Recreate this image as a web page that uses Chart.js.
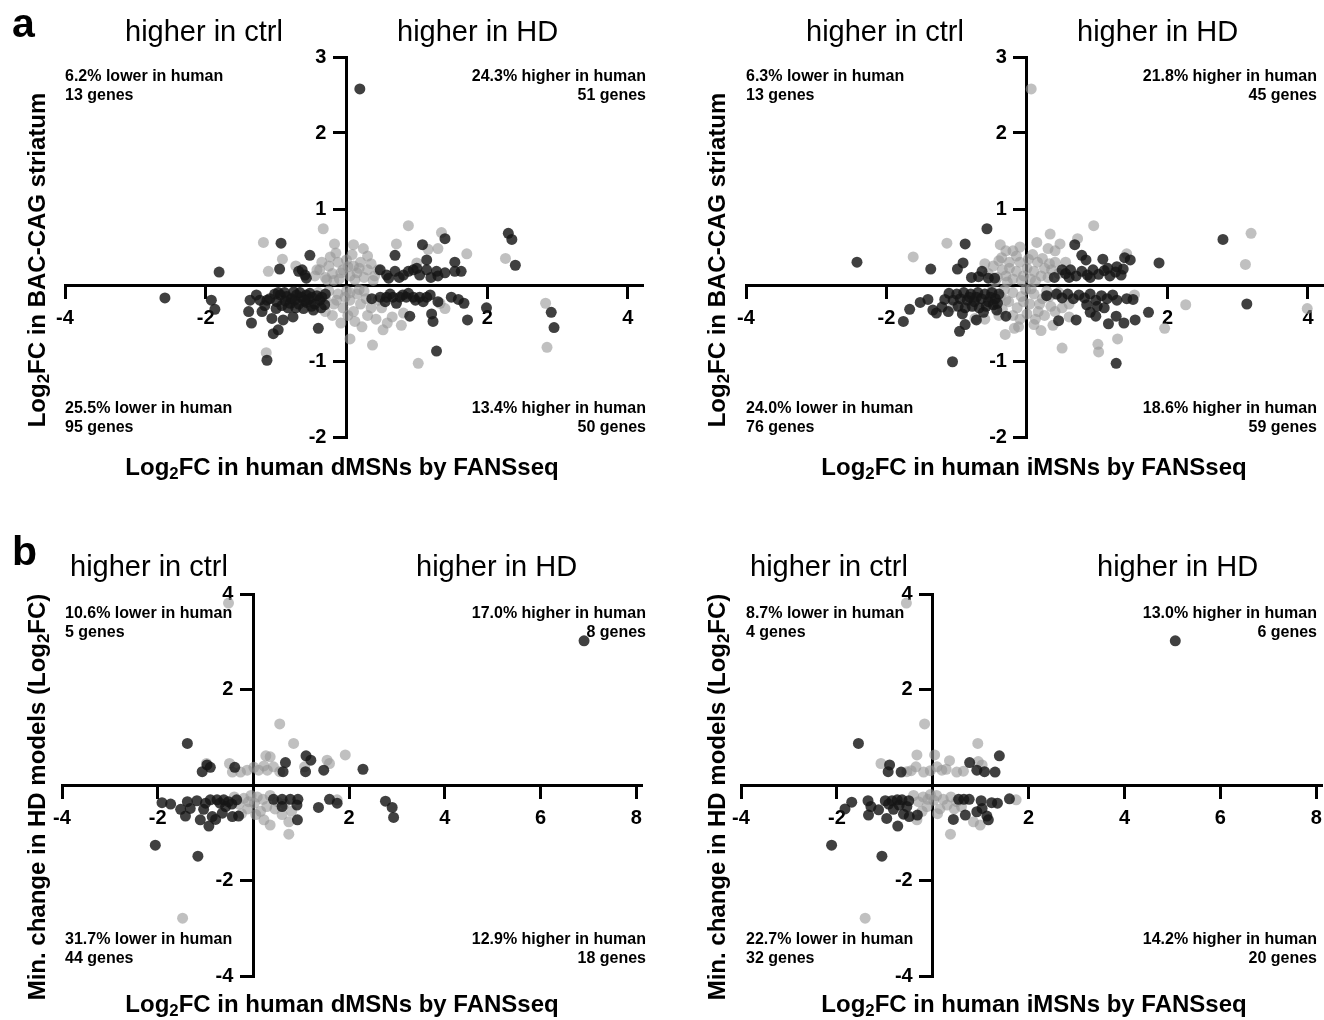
<!DOCTYPE html>
<html lang="en">
<head>
<meta charset="UTF-8">
<title>Log2FC comparison, human MSNs vs HD models</title>
<script src="https://cdn.jsdelivr.net/npm/chart.js"></script>
<style>
  html, body { margin: 0; padding: 0; overflow: hidden; background: #fff; }
  body { position: relative; width: 1324px; height: 1020px; font-family: "Liberation Sans", Arial, sans-serif; color: #000; }
  canvas { position: absolute; }
  .t { position: absolute; white-space: nowrap; z-index: 2; }
  .letter { font-size: 41px; font-weight: bold; line-height: 40px; }
  .dir { font-size: 29px; line-height: 29px; }
  .note { font-size: 16px; font-weight: bold; line-height: 19px; }
  .note.r { text-align: right; }
  .xt { font-size: 24px; font-weight: bold; line-height: 24px; transform: translateX(-50%); }
  .yt { font-size: 24px; font-weight: bold; line-height: 24px; transform: translate(-50%, -50%) rotate(-90deg); }
  sub { font-size: 70%; vertical-align: -0.25em; line-height: 0; }
</style>
</head>
<body>
  <div class="t letter" style="left:12px; top:3px;">a</div>
  <div class="t letter" style="left:12px; top:531px;">b</div>

  <div class="t dir" style="left:125px; top:17px;">higher in ctrl</div>
  <div class="t dir" style="left:397px; top:17px;">higher in HD</div>
  <div class="t dir" style="left:806px; top:17px;">higher in ctrl</div>
  <div class="t dir" style="left:1077px; top:17px;">higher in HD</div>
  <div class="t dir" style="left:70px; top:552px;">higher in ctrl</div>
  <div class="t dir" style="left:416px; top:552px;">higher in HD</div>
  <div class="t dir" style="left:750px; top:552px;">higher in ctrl</div>
  <div class="t dir" style="left:1097px; top:552px;">higher in HD</div>

  <div class="t note" style="left:65px; top:66px;">6.2% lower in human<br>13 genes</div>
  <div class="t note r" style="right:678px; top:66px;">24.3% higher in human<br>51 genes</div>
  <div class="t note" style="left:65px; top:398px;">25.5% lower in human<br>95 genes</div>
  <div class="t note r" style="right:678px; top:398px;">13.4% higher in human<br>50 genes</div>

  <div class="t note" style="left:746px; top:66px;">6.3% lower in human<br>13 genes</div>
  <div class="t note r" style="right:7px; top:66px;">21.8% higher in human<br>45 genes</div>
  <div class="t note" style="left:746px; top:398px;">24.0% lower in human<br>76 genes</div>
  <div class="t note r" style="right:7px; top:398px;">18.6% higher in human<br>59 genes</div>

  <div class="t note" style="left:65px; top:603px;">10.6% lower in human<br>5 genes</div>
  <div class="t note r" style="right:678px; top:603px;">17.0% higher in human<br>8 genes</div>
  <div class="t note" style="left:65px; top:929px;">31.7% lower in human<br>44 genes</div>
  <div class="t note r" style="right:678px; top:929px;">12.9% higher in human<br>18 genes</div>

  <div class="t note" style="left:746px; top:603px;">8.7% lower in human<br>4 genes</div>
  <div class="t note r" style="right:7px; top:603px;">13.0% higher in human<br>6 genes</div>
  <div class="t note" style="left:746px; top:929px;">22.7% lower in human<br>32 genes</div>
  <div class="t note r" style="right:7px; top:929px;">14.2% higher in human<br>20 genes</div>

  <div class="t xt" style="left:342px; top:455px;">Log<sub>2</sub>FC in human dMSNs by FANSseq</div>
  <div class="t xt" style="left:1034px; top:455px;">Log<sub>2</sub>FC in human iMSNs by FANSseq</div>
  <div class="t xt" style="left:342px; top:992px;">Log<sub>2</sub>FC in human dMSNs by FANSseq</div>
  <div class="t xt" style="left:1034px; top:992px;">Log<sub>2</sub>FC in human iMSNs by FANSseq</div>

  <div class="t yt" style="left:37px; top:260px;">Log<sub>2</sub>FC in BAC-CAG striatum</div>
  <div class="t yt" style="left:717px; top:260px;">Log<sub>2</sub>FC in BAC-CAG striatum</div>
  <div class="t yt" style="left:37px; top:797px;">Min. change in HD models (Log<sub>2</sub>FC)</div>
  <div class="t yt" style="left:717px; top:797px;">Min. change in HD models (Log<sub>2</sub>FC)</div>

  <canvas id="aLeft" width="657" height="460" style="left:25px; top:17px;"></canvas>
  <canvas id="aRight" width="656" height="460" style="left:706px; top:17px;"></canvas>
  <canvas id="bLeft" width="659" height="462" style="left:22px; top:554px;"></canvas>
  <canvas id="bRight" width="660" height="462" style="left:701px; top:554px;"></canvas>

<script>
// tick values (0 is not labelled in the figure)
const ticksAx = [-4, -2, 2, 4];
const ticksAy = [3, 2, 1, -1, -2];
const ticksBx = [-4, -2, 2, 4, 6, 8];
const ticksBy = [4, 2, -2, -4];

// panel a, dMSNs vs BAC-CAG: significant (dark) and not significant (grey)
const aDmsnSig = [
  [0.19,2.58],[-2.58,-0.17],[-1.81,0.17],[-1.92,-0.2],[-1.87,-0.32],[-0.93,0.55],[-0.52,0.39],[-0.95,0.21],
  [-0.68,0.18],[-0.59,0.13],[-0.57,0.09],[-0.63,0.2],
  [-1.37,-0.2],[-1.39,-0.35],[-1.35,-0.5],[-1.2,-0.35],[-1.13,-0.2],[-1.06,-0.44],[-1.04,-0.64],[-0.97,-0.59],
  [-0.9,-0.46],[-0.76,-0.42],[-1.13,-0.99],[-0.4,-0.57],[-0.94,-0.13],[-0.85,-0.15],[-0.78,-0.18],[-0.71,-0.13],
  [-0.64,-0.16],[-0.57,-0.13],[-0.49,-0.16],[-0.42,-0.14],[-0.35,-0.16],[-0.8,-0.24],[-0.68,-0.25],[-0.57,-0.23],
  [-0.45,-0.25],[-0.99,-0.22],[-0.61,-0.31],[-0.47,-0.33],[-0.31,-0.26],[-1.09,-0.18],[-1.23,-0.2],[-1.02,-0.12],
  [-0.88,-0.1],[-0.74,-0.2],[-0.52,-0.11],[-0.38,-0.2],[-1.16,-0.27],[-0.66,-0.1],[-0.83,-0.3],[-0.54,-0.19],
  [-0.92,-0.27],[-0.72,-0.3],[-1.28,-0.13],[-0.3,-0.12],[-0.87,-0.21],[-0.6,-0.21],[-0.5,-0.28],[-1.0,-0.31],
  [-0.36,-0.3],[-0.97,-0.1],[-0.75,-0.09],
  [0.36,-0.18],[0.48,-0.16],[0.57,-0.16],[0.66,-0.16],[0.76,-0.16],[0.85,-0.16],[0.95,-0.16],[1.04,-0.16],
  [1.14,-0.16],[0.55,-0.22],[0.71,-0.24],[0.9,-0.41],[1.21,-0.38],[1.23,-0.48],[1.28,-0.87],[0.62,-0.12],
  [0.8,-0.13],[0.98,-0.2],[1.19,-0.13],[1.3,-0.22],[1.49,-0.16],[1.59,-0.19],[1.67,-0.24],[1.72,-0.46],
  [1.99,-0.3],[2.91,-0.36],[2.95,-0.56],[0.88,-0.11],[1.09,-0.22],
  [0.48,0.2],[0.57,0.13],[0.69,0.18],[0.81,0.13],[0.95,0.2],[1.04,0.13],[1.14,0.2],[1.28,0.18],[1.4,0.16],
  [0.69,0.39],[1.08,0.53],[1.14,0.33],[1.4,0.61],[1.54,0.3],[1.63,0.18],[1.54,0.18],[1.3,0.12],[2.3,0.68],
  [2.35,0.6],[2.4,0.26],[0.88,0.18],[1.0,0.22],[0.6,0.09],[0.75,0.1],[1.2,0.1]
];
const aDmsnNs = [
  [-0.33,0.74],[-1.18,0.56],[-0.91,0.34],[-1.11,0.18],[-0.72,0.25],[-0.17,0.54],[-0.23,0.37],[0.1,0.53],
  [0.24,0.48],[0.88,0.78],[0.71,0.54],[1.35,0.69],[1.3,0.48],[1.0,0.29],[1.16,0.47],[1.71,0.41],[2.26,0.35],
  [-0.45,0.12],[-0.38,0.2],[-0.3,0.1],[-0.25,0.25],[-0.2,0.15],[-0.12,0.3],[-0.1,0.08],[-0.05,0.2],[0.0,0.33],
  [0.05,0.12],[0.1,0.25],[0.15,0.16],[0.2,0.3],[0.25,0.1],[0.3,0.2],[0.35,0.28],[0.4,0.12],[-0.35,0.3],
  [-0.15,0.42],[0.08,0.4],[0.3,0.38],[-0.42,0.2],[0.12,0.07],[-0.28,0.07],[0.45,0.2],[-0.08,0.16],[0.02,0.24],
  [0.18,0.22],[-0.18,0.06],[0.38,0.06],
  [-0.4,-0.1],[-0.3,-0.18],[-0.25,-0.08],[-0.18,-0.25],[-0.12,-0.12],[-0.05,-0.3],[0.0,-0.08],[0.05,-0.2],
  [0.1,-0.35],[0.15,-0.12],[0.2,-0.25],[0.25,-0.08],[0.3,-0.4],[0.35,-0.3],[0.42,-0.45],[0.5,-0.3],
  [0.58,-0.5],[-0.2,-0.4],[-0.08,-0.5],[0.12,-0.48],[0.22,-0.55],[-0.3,-0.35],[0.65,-0.42],[0.05,-0.1],
  [-0.14,-0.2],[0.02,-0.4],[0.28,-0.18],[-0.02,-0.16],[0.18,-0.06],[0.45,-0.2],
  [0.05,-0.71],[0.37,-0.79],[-1.14,-0.89],[1.02,-1.03],[0.52,-0.59],[1.4,-0.31],[1.33,-0.24],[2.83,-0.24],
  [2.85,-0.82],[0.81,-0.37],[0.78,-0.53]
];

// panel a, iMSNs vs BAC-CAG
const aImsnSig = [
  [-2.42,0.3],[-0.57,0.74],[-0.88,0.54],[-1.37,0.21],[-0.91,0.29],[-0.99,0.21],[-0.64,0.18],[-0.79,0.1],
  [-0.69,0.11],[-0.55,0.09],[-0.46,0.09],
  [-1.76,-0.48],[-1.67,-0.32],[-1.52,-0.23],[-1.41,-0.19],[-1.34,-0.33],[-1.29,-0.37],[-1.21,-0.29],[-1.17,-0.19],
  [-1.11,-0.11],[-1.12,-0.35],[-0.96,-0.61],[-0.88,-0.52],[-0.72,-0.46],[-1.06,-1.01],[-0.3,-0.41],[-0.43,-0.33],
  [-1.0,-0.12],[-0.95,-0.18],[-0.9,-0.1],[-0.85,-0.2],[-0.8,-0.12],[-0.75,-0.22],[-0.7,-0.1],[-0.65,-0.18],
  [-0.6,-0.12],[-0.55,-0.22],[-0.5,-0.1],[-0.45,-0.18],[-0.4,-0.12],[-0.98,-0.28],[-0.88,-0.3],[-0.78,-0.28],
  [-0.68,-0.3],[-0.58,-0.28],[-0.48,-0.26],[-1.05,-0.2],[-0.92,-0.38],[-0.62,-0.36],[-0.82,-0.16],[-0.72,-0.16],
  [-0.52,-0.16],[-0.42,-0.24],
  [2.79,0.6],[1.88,0.29],[0.68,0.53],[0.78,0.39],[0.84,0.33],[1.08,0.34],[1.39,0.36],[1.47,0.33],[1.28,0.24],
  [0.39,0.1],[0.55,0.15],[0.62,0.2],[0.7,0.12],[0.78,0.18],[0.86,0.13],[0.94,0.2],[1.02,0.14],[1.1,0.19],
  [1.18,0.12],[1.26,0.17],[1.34,0.13],[1.37,0.21],[0.6,0.1],[0.9,0.1],[1.15,0.22],[0.5,0.2],
  [3.13,-0.25],[0.28,-0.14],[0.42,-0.12],[0.5,-0.17],[0.58,-0.12],[0.66,-0.18],[0.74,-0.13],[0.82,-0.17],
  [0.9,-0.12],[0.98,-0.2],[1.06,-0.14],[1.14,-0.18],[1.22,-0.13],[1.28,-0.2],[1.42,-0.18],[1.51,-0.19],
  [1.73,-0.36],[1.54,-0.46],[1.38,-0.5],[1.27,-0.41],[1.16,-0.51],[0.98,-0.41],[0.9,-0.36],[0.7,-0.46],
  [0.45,-0.47],[1.27,-1.03],[1.0,-0.28],[1.1,-0.3],[0.85,-0.26]
];
const aImsnNs = [
  [0.06,2.58],[-1.14,0.55],[-1.62,0.37],[-0.38,0.53],[-0.3,0.45],[-0.36,0.36],[-0.25,0.3],[-0.31,-0.65],
  [-0.18,-0.57],[-0.74,-0.44],[-1.06,-0.29],[-0.6,-0.45],
  [0.95,0.78],[0.33,0.67],[0.72,0.61],[0.14,0.56],[0.47,0.54],[0.3,0.48],[0.4,0.45],[-0.1,0.5],[-0.2,0.45],
  [3.19,0.68],[3.11,0.27],[1.42,0.41],[2.26,-0.26],[3.99,-0.31],[1.96,-0.57],[1.53,-0.13],[1.29,-0.71],
  [1.01,-0.78],[1.02,-0.88],[0.5,-0.83],[0.37,-0.53],[0.6,-0.42],
  [-0.55,0.15],[-0.48,0.25],[-0.42,0.1],[-0.35,0.2],[-0.3,0.12],[-0.25,0.22],[-0.2,0.08],[-0.15,0.18],
  [-0.1,0.3],[-0.05,0.12],[0.0,0.22],[0.05,0.08],[0.1,0.18],[0.15,0.3],[0.2,0.12],[0.25,0.22],[0.3,0.1],
  [0.35,0.2],[0.4,0.3],[0.45,0.15],[-0.4,0.32],[-0.15,0.38],[0.08,0.4],[0.22,0.35],[-0.6,0.28],[0.55,0.3],
  [-0.28,0.04],[-0.08,0.06],[0.12,0.05],[0.32,0.28],[-0.45,0.05],[0.02,0.34],
  [-0.5,-0.08],[-0.38,-0.15],[-0.32,-0.06],[-0.26,-0.22],[-0.2,-0.1],[-0.14,-0.3],[-0.08,-0.15],[-0.02,-0.06],
  [0.04,-0.25],[0.1,-0.12],[0.16,-0.35],[0.22,-0.18],[0.28,-0.08],[0.34,-0.28],[-0.35,-0.32],[-0.2,-0.4],
  [0.0,-0.38],[0.12,-0.45],[0.4,-0.35],[0.5,-0.3],[-0.05,-0.22],[-0.45,-0.25],[0.25,-0.4],[0.6,-0.25],
  [0.2,-0.6],[0.1,-0.52],[-0.12,-0.55],[-0.3,-0.2],[0.06,-0.05],[0.18,-0.25],[-0.4,-0.4],[0.32,-0.15],
  [-0.1,-0.45],[0.45,-0.1]
];

// panel b, dMSNs vs min. change in HD models
const bDmsnSig = [
  [6.91,3.02],[-2.05,-1.26],[-1.16,-1.49],[-1.38,0.87],[-1.07,0.28],[-0.97,0.42],[-0.9,0.37],[-0.39,0.37],
  [0.62,0.28],[0.67,0.47],[1.1,0.61],[1.2,0.52],[1.09,0.28],[1.47,0.31],[2.29,0.33],
  [-1.91,-0.37],[-1.73,-0.4],[-1.52,-0.51],[-1.42,-0.65],[-1.38,-0.35],[-1.18,-0.33],[-1.04,-0.51],[-1.11,-0.73],
  [-0.93,-0.86],[-0.86,-0.66],[-0.79,-0.72],[-0.65,-0.59],[-0.9,-0.31],[-0.76,-0.31],[-0.62,-0.31],[-0.52,-0.35],
  [-0.58,-0.45],[-0.35,-0.31],[-0.44,-0.66],[-0.31,-0.65],[-1.32,-0.49],[-1.0,-0.38],[-0.7,-0.38],[-0.45,-0.4],
  [0.42,-0.3],[0.6,-0.3],[0.77,-0.3],[0.93,-0.3],[0.6,-0.45],[0.91,-0.42],[0.92,-0.73],[1.36,-0.47],
  [1.59,-0.3],[1.75,-0.38],[2.76,-0.34],[2.9,-0.47],[2.93,-0.68]
];
const bDmsnNs = [
  [-0.52,3.81],[-1.48,-2.79],[0.55,1.28],[0.84,0.87],[1.92,0.63],[1.54,0.52],[1.59,0.45],[0.26,0.61],
  [0.35,0.59],[-0.5,0.45],[-0.98,0.45],[-0.44,0.27],[-0.27,0.27],[-0.13,0.31],[0.01,0.37],[0.11,0.31],
  [0.22,0.4],[0.29,0.31],[0.42,0.38],[0.55,0.28],[1.07,0.38],
  [0.74,-1.03],[0.35,-0.84],[0.22,-0.73],[0.74,-0.77],[0.6,-0.62],[0.8,-0.55],[1.75,-0.31],[-0.4,-0.25],
  [-0.3,-0.4],[-0.2,-0.28],[-0.12,-0.5],[-0.05,-0.22],[0.02,-0.38],[0.08,-0.25],[0.15,-0.55],[0.2,-0.3],
  [0.28,-0.45],[0.35,-0.22],[0.45,-0.5],[0.5,-0.35],[-0.25,-0.6],[0.05,-0.62],[0.65,-0.4],[-0.1,-0.35]
];

// panel b, iMSNs vs min. change in HD models
const bImsnSig = [
  [5.06,3.02],[-2.11,-1.26],[-1.06,-1.49],[-1.55,0.87],[-0.9,0.42],[-0.93,0.28],[-0.66,0.27],[0.77,0.47],
  [0.92,0.31],[1.08,0.28],[1.3,0.27],[1.39,0.61],
  [-1.69,-0.36],[-1.83,-0.5],[-1.35,-0.33],[-1.29,-0.45],[-1.13,-0.52],[-1.34,-0.63],[-0.99,-0.33],[-0.85,-0.33],
  [-0.74,-0.31],[-0.64,-0.31],[-0.5,-0.33],[-0.82,-0.51],[-0.96,-0.7],[-0.73,-0.86],[-0.61,-0.61],[-0.49,-0.66],
  [-0.32,-0.63],[-0.54,-0.45],[-0.92,-0.4],[-0.7,-0.42],
  [0.54,-0.3],[0.76,-0.3],[1.01,-0.33],[1.23,-0.37],[1.35,-0.38],[1.6,-0.29],[1.03,-0.49],[1.13,-0.65],
  [1.16,-0.73],[0.92,-0.56],[0.68,-0.63],[0.43,-0.72],[0.65,-0.3]
];
const bImsnNs = [
  [-0.55,3.81],[-1.41,-2.79],[-0.17,1.28],[0.94,0.87],[-0.33,0.63],[0.04,0.63],[-1.08,0.45],[-0.54,0.28],
  [-0.35,0.38],[-0.19,0.27],[-0.05,0.3],[0.09,0.38],[0.19,0.31],[0.35,0.51],[0.5,0.27],[0.64,0.29],
  [0.95,0.49],[1.03,0.42],[-0.45,0.3],[0.28,0.33],
  [0.37,-1.03],[0.85,-0.77],[0.99,-0.84],[1.74,-0.31],[-0.33,-0.73],[-0.4,-0.22],[-0.3,-0.35],[-0.2,-0.25],
  [-0.12,-0.45],[-0.05,-0.2],[0.02,-0.32],[0.08,-0.22],[0.15,-0.5],[0.22,-0.3],[0.3,-0.42],[0.38,-0.25],
  [0.45,-0.5],[0.5,-0.35],[-0.22,-0.55],[0.1,-0.6],[-0.1,-0.3],[0.6,-0.45]
];

const FONT = '"Liberation Sans", Arial, sans-serif';
const DARK = 'rgba(22,22,22,0.82)';
const GREY = 'rgba(150,150,150,0.6)';

function toXY(arr) {
  return arr.map(p => ({ x: p[0], y: p[1] }));
}

function axis(min, max, ticks, isX) {
  return {
    type: 'linear',
    min: min,
    max: max,
    position: isX ? { y: 0 } : { x: 0 },
    afterBuildTicks: (scale) => { scale.ticks = ticks.map(v => ({ value: v })); },
    ticks: {
      color: '#000',
      padding: 9,
      font: { family: FONT, size: 20, weight: 'bold' },
      maxRotation: 0,
      autoSkip: false,
      // a centred y axis puts its labels on the axis line, so push them left with en spaces
      callback: isX ? (v => String(v)) : (v => v + '\u2002\u2002')
    },
    grid: {
      drawOnChartArea: false,
      drawTicks: true,
      tickLength: 12,
      color: '#000',
      lineWidth: 3
    },
    border: { display: true, color: '#000', width: 3 }
  };
}

function scatterPanel(id, sig, ns, xMax, yMin, yMax, xt, yt) {
  new Chart(document.getElementById(id), {
    type: 'scatter',
    data: {
      datasets: [
        { data: toXY(sig), backgroundColor: DARK, borderWidth: 0, pointRadius: 5.5 },
        { data: toXY(ns), backgroundColor: GREY, borderWidth: 0, pointRadius: 5.5 }
      ]
    },
    options: {
      responsive: false,
      animation: false,
      layout: { padding: 40 },
      plugins: { legend: { display: false }, tooltip: { enabled: false } },
      scales: {
        x: axis(-4, xMax, xt, true),
        y: axis(yMin, yMax, yt, false)
      }
    }
  });
}

scatterPanel('aLeft', aDmsnSig, aDmsnNs, 4.2, -2, 3, ticksAx, ticksAy);
scatterPanel('aRight', aImsnSig, aImsnNs, 4.2, -2, 3, ticksAx, ticksAy);
scatterPanel('bLeft', bDmsnSig, bDmsnNs, 8.1, -4, 4, ticksBx, ticksBy);
scatterPanel('bRight', bImsnSig, bImsnNs, 8.1, -4, 4, ticksBx, ticksBy);
</script>
</body>
</html>
